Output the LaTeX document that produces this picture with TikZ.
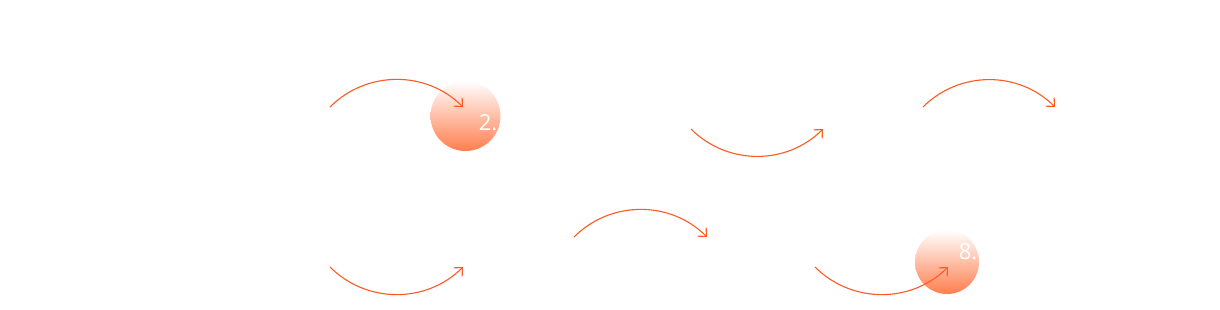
\documentclass[tikz,border=0pt]{standalone}
\usepackage{fontspec}
\setmainfont{Open Sans}
\usetikzlibrary{arrows.meta}
\definecolor{arcred}{HTML}{FF5A24}
\definecolor{dotorange}{HTML}{FF7E4E}
\tikzset{
  arc/.style={draw=arcred, line width=0.55pt, -{Straight Barb[length=3.2pt,width=6pt]}},
  dot/.style={circle, inner sep=0pt, top color=white, bottom color=dotorange, draw=none},
  num/.style={text=white, font=\fontsize{11}{11}\selectfont}
}
\begin{document}
\begin{tikzpicture}[x=0.5pt, y=-0.5pt]
\fill[white] (0,0) rectangle (1220,310);
\useasboundingbox (0,0) rectangle (1220,310);

% circles behind the arcs
\node[dot, minimum size=35pt] (c2) at (465.5,116) {};
\node[num] (n2) at (488,123) {2.};
\node[dot, minimum size=32pt] (c8) at (947,262) {};
\node[num] (n8) at (968,252) {8.};

% end points of the arcs
\coordinate (a1) at (330,107);
\coordinate (b1) at (463,107);
\coordinate (a2) at (691,129);
\coordinate (b2) at (823,129);
\coordinate (a3) at (923,107);
\coordinate (b3) at (1055,107);
\coordinate (a4) at (330,267);
\coordinate (b4) at (463,267);
\coordinate (a5) at (574,237);
\coordinate (b5) at (707,237);
\coordinate (a6) at (815,267);
\coordinate (b6) at (948,267);

\draw[arc] (a1) to[bend left=45] (b1);
\draw[arc] (a2) to[bend right=45] (b2);
\draw[arc] (a3) to[bend left=45] (b3);
\draw[arc] (a4) to[bend right=45] (b4);
\draw[arc] (a5) to[bend left=45] (b5);
\draw[arc] (a6) to[bend right=45] (b6);
\end{tikzpicture}
\end{document}
